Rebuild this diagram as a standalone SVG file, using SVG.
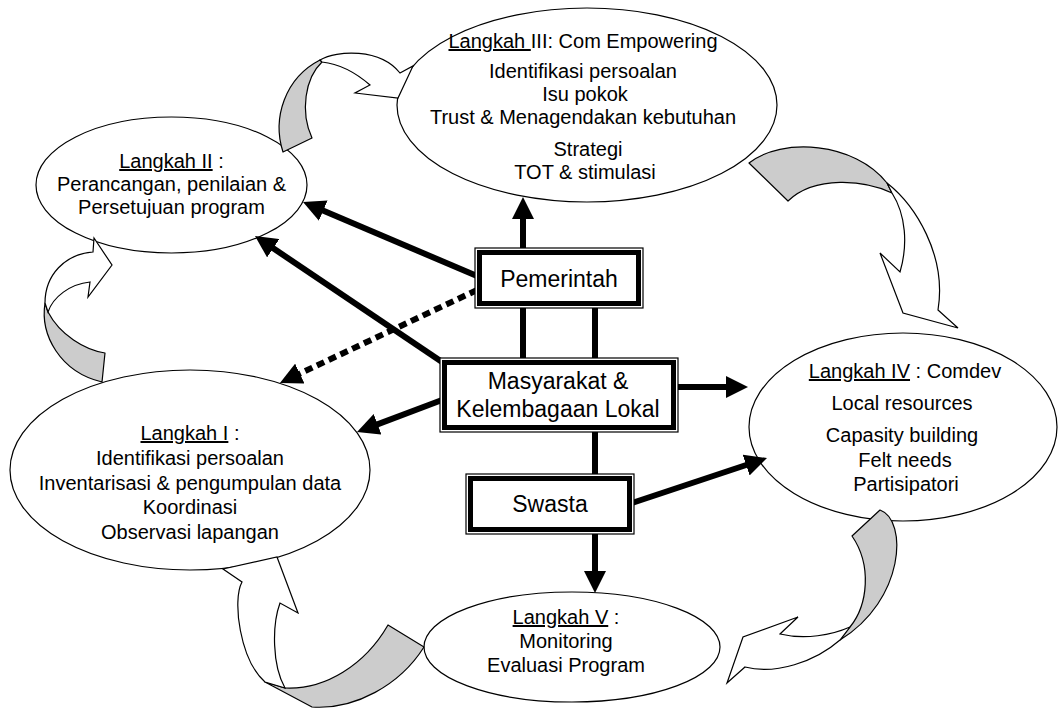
<svg xmlns="http://www.w3.org/2000/svg" width="1058" height="711" viewBox="0 0 1058 711">
<style>
.ell{fill:#fff;stroke:#000;stroke-width:1.2}
.t{font-family:"Liberation Sans",Arial,sans-serif;font-size:20px;fill:#000;text-anchor:middle}
.tb{font-family:"Liberation Sans",Arial,sans-serif;font-size:23px;fill:#000;text-anchor:middle}
.u{text-decoration:underline}
.gray{fill:#cccccc;stroke:#000;stroke-width:1.2;stroke-linejoin:round}
.wht{fill:#fff;stroke:#000;stroke-width:1.2;stroke-linejoin:miter}
.con{stroke:#000;stroke-width:6;fill:none}
.dot{stroke:#000;stroke-width:6;fill:none;stroke-dasharray:8 5}
.bo{fill:#fff;stroke:#000;stroke-width:1.2}
.bi{fill:none;stroke:#000;stroke-width:5}
</style>
<defs>
<marker id="ah" markerUnits="userSpaceOnUse" markerWidth="24" markerHeight="22" refX="8" refY="11" orient="auto">
<path d="M0,0 L22,11 L0,22 Z" fill="#000"/>
</marker>
</defs>

<g id="langkah2">
<ellipse class="ell" cx="171.5" cy="185" rx="135.5" ry="68"/>
<text class="t" x="171.5" y="168"><tspan class="u">Langkah II</tspan> :</text>
<text class="t" x="171.5" y="191">Perancangan, penilaian &amp;</text>
<text class="t" x="171.5" y="214">Persetujuan program</text>
</g>

<g id="langkah3">
<ellipse class="ell" cx="587" cy="105" rx="190" ry="97"/>
<text class="t" x="583" y="48"><tspan class="u">Langkah </tspan>III: Com Empowering</text>
<text class="t" x="583" y="78">Identifikasi persoalan</text>
<text class="t" x="585" y="101">Isu pokok</text>
<text class="t" x="583" y="124">Trust &amp; Menagendakan kebutuhan</text>
<text class="t" x="588" y="156">Strategi</text>
<text class="t" x="585" y="179">TOT &amp; stimulasi</text>
</g>

<g id="langkah4">
<ellipse class="ell" cx="903" cy="427" rx="154" ry="94"/>
<text class="t" x="905" y="378"><tspan class="u">Langkah IV</tspan> : Comdev</text>
<text class="t" x="902" y="410">Local resources</text>
<text class="t" x="902" y="442">Capasity building</text>
<text class="t" x="905" y="467">Felt needs</text>
<text class="t" x="906" y="491">Partisipatori</text>
</g>

<g id="langkah1">
<ellipse class="ell" cx="190" cy="470" rx="180" ry="100"/>
<text class="t" x="190" y="440"><tspan class="u">Langkah I</tspan> :</text>
<text class="t" x="190" y="465">Identifikasi persoalan</text>
<text class="t" x="190" y="490">Inventarisasi &amp; pengumpulan data</text>
<text class="t" x="190" y="514">Koordinasi</text>
<text class="t" x="190" y="539">Observasi lapangan</text>
</g>

<g id="langkah5">
<ellipse class="ell" cx="572" cy="647" rx="148" ry="55"/>
<text class="t" x="566" y="624"><tspan class="u">Langkah V</tspan> :</text>
<text class="t" x="566" y="648">Monitoring</text>
<text class="t" x="566" y="672">Evaluasi Program</text>
</g>

<g id="cycle-arrows">
<g id="arrow-1-2">
<path class="gray" d="M45,303 C40,335 60,372 102,382 L105,353 C85,350 60,335 48,312 Z"/>
<path class="wht" d="M45,303 C45,275 65,254 93,252 L94,238 L112,265 L88,297 L90,282 C70,284 53,297 48,312 Z"/>
</g>
<g id="arrow-2-3">
<path class="gray" d="M283,152 C272,118 285,78 320,60 L322,62 C305,78 300,112 312,138 Z"/>
<path class="wht" d="M320,60 C337,50 380,48 400,73 L413,66 L398,98 L355,93 L370,85 C355,72 340,64 322,62 Z"/>
</g>
<g id="arrow-3-4">
<path class="gray" d="M749,163 C782,137 855,142 887,183 L892,193 C865,180 815,175 788,201 Z"/>
<path class="wht" d="M887,183 C915,205 947,255 938,310 L958,328 L903,313 L880,253 L900,272 C908,245 906,215 892,193 Z"/>
</g>
<g id="arrow-4-5">
<path class="gray" d="M880,510 C908,520 905,600 840,640 L850,627 C868,605 872,565 852,536 Z"/>
<path class="wht" d="M840,640 C815,662 775,675 745,667 L727,683 L743,637 L798,617 L780,634 C805,640 832,635 850,627 Z"/>
</g>
<g id="arrow-5-1">
<path class="gray" d="M388,625 C365,665 325,690 285,688 L265,682 L312,707 C355,710 400,685 424,647 Z"/>
<path class="wht" d="M265,682 C240,660 232,600 242,582 L223,569 L277,557 L298,613 L280,603 C272,625 272,665 285,688 Z"/>
</g>
</g>

<g id="connectors">
<line class="con" x1="523" y1="250" x2="523" y2="211" marker-end="url(#ah)"/>
<line class="con" x1="477" y1="276" x2="315.9" y2="207.5" marker-end="url(#ah)"/>
<line class="con" x1="448" y1="366" x2="266.6" y2="243.8" marker-end="url(#ah)"/>
<line class="dot" x1="477" y1="290" x2="292.6" y2="377" marker-end="url(#ah)"/>
<line class="con" x1="442" y1="400" x2="370.1" y2="427.1" marker-end="url(#ah)"/>
<line class="con" x1="676" y1="387" x2="734" y2="387" marker-end="url(#ah)"/>
<line class="con" x1="632" y1="503" x2="753.7" y2="462.5" marker-end="url(#ah)"/>
<line class="con" x1="595" y1="532" x2="595" y2="579" marker-end="url(#ah)"/>
<line class="con" x1="523" y1="306" x2="523" y2="360"/>
<line class="con" x1="595" y1="306" x2="595" y2="360"/>
<line class="con" x1="595" y1="430" x2="595" y2="476"/>
</g>

<g id="pemerintah">
<rect class="bo" x="475" y="248" width="168" height="60"/>
<rect class="bi" x="479.5" y="252.5" width="159" height="51"/>
<text class="tb" x="559" y="287">Pemerintah</text>
</g>

<g id="masyarakat">
<rect class="bo" x="440" y="358" width="238" height="74"/>
<rect class="bi" x="444.5" y="362.5" width="229" height="65"/>
<text class="tb" x="558" y="389">Masyarakat &amp;</text>
<text class="tb" x="558" y="417">Kelembagaan Lokal</text>
</g>

<g id="swasta">
<rect class="bo" x="466" y="474" width="168" height="60"/>
<rect class="bi" x="470.5" y="478.5" width="159" height="51"/>
<text class="tb" x="550" y="512">Swasta</text>
</g>
</svg>
